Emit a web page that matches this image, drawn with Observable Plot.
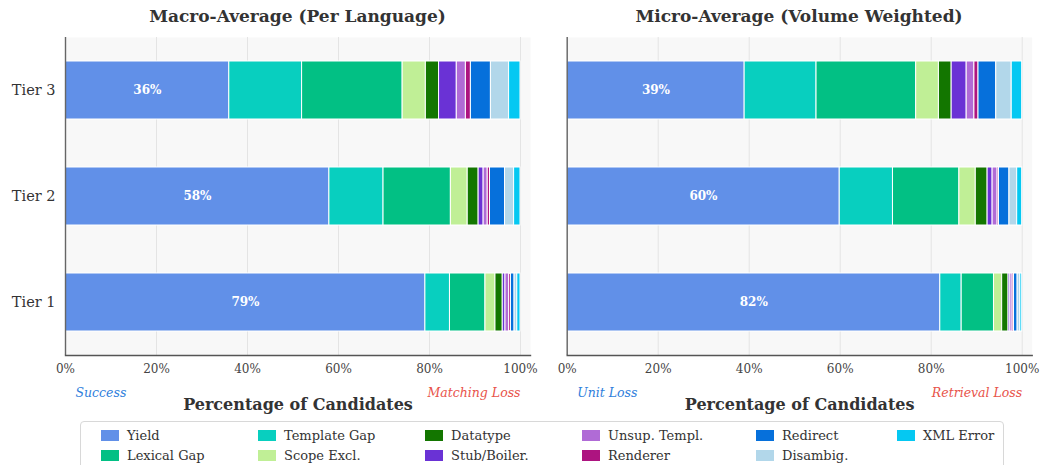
<!DOCTYPE html>
<html>
<head>
<meta charset="utf-8">
<script src="https://cdn.jsdelivr.net/npm/d3@7"></script>
<script src="https://cdn.jsdelivr.net/npm/@observablehq/plot@0.6"></script>
<style>
  html, body { margin: 0; padding: 0; background: #fff; }
  body { font-family: "DejaVu Serif", serif; }
  #wrap { position: relative; width: 1041px; height: 465px; overflow: hidden; }
  .panel { position: absolute; top: 0; }
  .title { position: absolute; top: 6px; font-weight: bold; font-size: 17px; color: #333; text-align: center; white-space: nowrap; transform: translateX(-50%); }
  #legend { position: absolute; left: 80px; top: 421px; width: 924px; height: 60px; border: 1px solid #d8d8d8; border-radius: 4px; box-sizing: border-box; background: #fff; }
  .li { position: absolute; display: flex; align-items: center; font-size: 13px; color: #333; white-space: nowrap; }
  .sw { width: 18px; height: 11px; margin-right: 8px; }
</style>
</head>
<body>
<div id="wrap"></div>
<script>
const tiers = ["Tier 3", "Tier 2", "Tier 1"];
const categories = ["Yield", "Template Gap", "Lexical Gap", "Scope Excl.", "Datatype", "Stub/Boiler.", "Unsup. Templ.", "Renderer", "Redirect", "Disambig.", "XML Error"];
const colors = ["#6190e8", "#08cfbf", "#02c084", "#c0ef96", "#137600", "#6a32d5", "#b06bd6", "#ad1480", "#0670db", "#b2d7ea", "#05c8f2"];
// legend order, filled column by column (2 rows)
const legendOrder = ["Yield", "Lexical Gap", "Template Gap", "Scope Excl.", "Datatype", "Stub/Boiler.", "Unsup. Templ.", "Renderer", "Redirect", "Disambig.", "XML Error"];

// values per tier in category order (percent)
const macroTier3 = [36.0, 16.0, 22.1, 5.1, 2.9, 3.9, 2.0, 1.1, 4.4, 4.0, 2.5];
const macroTier2 = [58.0, 11.9, 14.8, 3.7, 2.4, 1.1, 0.9, 0.5, 3.3, 2.0, 1.4];
const macroTier1 = [79.1, 5.4, 7.8, 2.2, 1.6, 0.6, 0.8, 0.4, 0.8, 0.6, 0.7];

const microTier3 = [39.0, 15.8, 21.9, 5.0, 2.8, 3.3, 1.7, 0.9, 3.9, 3.4, 2.3];
const microTier2 = [59.9, 11.7, 14.6, 3.6, 2.6, 1.1, 1.1, 0.3, 2.3, 1.7, 1.1];
const microTier1 = [82.0, 4.7, 7.1, 1.8, 1.4, 0.4, 0.5, 0.3, 0.8, 0.6, 0.4];

const xTicks = [0, 20, 40, 60, 80, 100];
const macroTitle = "Macro-Average (Per Language)";
const microTitle = "Micro-Average (Volume Weighted)";
const xLabel = "Percentage of Candidates";
const macroNotes = ["Success", "Matching Loss"];
const microNotes = ["Unit Loss", "Retrieval Loss"];

function rows(byTier) {
  const out = [];
  for (const [tier, vals] of byTier) {
    vals.forEach((v, i) => out.push({tier, category: categories[i], value: v}));
  }
  return out;
}

const FONT = "DejaVu Serif, serif";

function panel({data, width, marginLeft, marginRight, showY, notes}) {
  const yieldRows = data.filter(d => d.category === "Yield");
  return Plot.plot({
    width, height: 420,
    marginLeft, marginRight, marginTop: 37, marginBottom: 65,
    style: {fontFamily: FONT, background: "transparent", overflow: "visible"},
    x: {domain: [0, 102.2], ticks: xTicks, tickFormat: d => d + "%", label: null},
    y: {domain: tiers, paddingInner: 0.45, paddingOuter: 0.225, label: null},
    color: {domain: categories, range: colors},
    marks: [
      Plot.frame({fill: "#f8f8f8", stroke: null}),
      Plot.gridX(xTicks, {stroke: "#e4e4e4", strokeOpacity: 1, strokeWidth: 1}),
      Plot.barX(data, Plot.stackX({x: "value", y: "tier", fill: "category", stroke: "white", strokeWidth: 1, order: categories})),
      Plot.text(yieldRows, Plot.stackX({x: "value", y: "tier", text: d => Math.round(d.value) + "%", fill: "white", fontWeight: "bold", fontSize: 12})),
      Plot.axisX({ticks: xTicks, tickFormat: d => d + "%", tickSize: 0, tickPadding: 9, fontSize: 12, color: "#444", label: null}),
      showY ? Plot.axisY({tickSize: 0, tickPadding: 10, fontSize: 14.5, color: "#333", label: null}) : Plot.axisY({ticks: [], label: null}),
      Plot.ruleX([0], {stroke: "#666", strokeWidth: 1.4}),
      Plot.frame({anchor: "bottom", stroke: "#555", strokeWidth: 1.4}),
      Plot.text([notes[0]], {frameAnchor: "bottom-left", dx: 10, dy: 41, text: d => d, fill: "#2f80dc", fontStyle: "italic", fontSize: 12.5, textAnchor: "start"}),
      Plot.text([notes[1]], {frameAnchor: "bottom-right", dx: -10, dy: 41, text: d => d, fill: "#e8534a", fontStyle: "italic", fontSize: 12.5, textAnchor: "end"}),
      Plot.text([xLabel], {frameAnchor: "bottom", dy: 54, text: d => d, fill: "#333", fontWeight: "bold", fontSize: 16})
    ]
  });
}

const wrap = document.getElementById("wrap");

const left = panel({
  data: rows([["Tier 3", macroTier3], ["Tier 2", macroTier2], ["Tier 1", macroTier1]]),
  width: 530, marginLeft: 65, marginRight: 0, showY: true, notes: macroNotes
});
left.classList.add("panel");
left.style.left = "0px";
wrap.appendChild(left);

const right = panel({
  data: rows([["Tier 3", microTier3], ["Tier 2", microTier2], ["Tier 1", microTier1]]),
  width: 511, marginLeft: 36.7, marginRight: 9.3, showY: false, notes: microNotes
});
right.classList.add("panel");
right.style.left = "530px";
wrap.appendChild(right);

function addTitle(text, cx) {
  const t = document.createElement("div");
  t.className = "title";
  t.textContent = text;
  t.style.left = cx + "px";
  wrap.appendChild(t);
}
addTitle(macroTitle, 297.5);
addTitle(microTitle, 799);

// legend, column-major, 6 columns x 2 rows
const legend = document.createElement("div");
legend.id = "legend";
const colLefts = [20, 177, 344, 501, 675, 816];
legendOrder.forEach((c, i) => {
  const col = Math.floor(i / 2), row = i % 2;
  const item = document.createElement("div");
  item.className = "li";
  item.style.left = colLefts[col] + "px";
  item.style.top = (6 + row * 20) + "px";
  const sw = document.createElement("div");
  sw.className = "sw";
  sw.style.background = colors[categories.indexOf(c)];
  item.appendChild(sw);
  const lab = document.createElement("span");
  lab.textContent = c;
  item.appendChild(lab);
  legend.appendChild(item);
});
wrap.appendChild(legend);
</script>
</body>
</html>
